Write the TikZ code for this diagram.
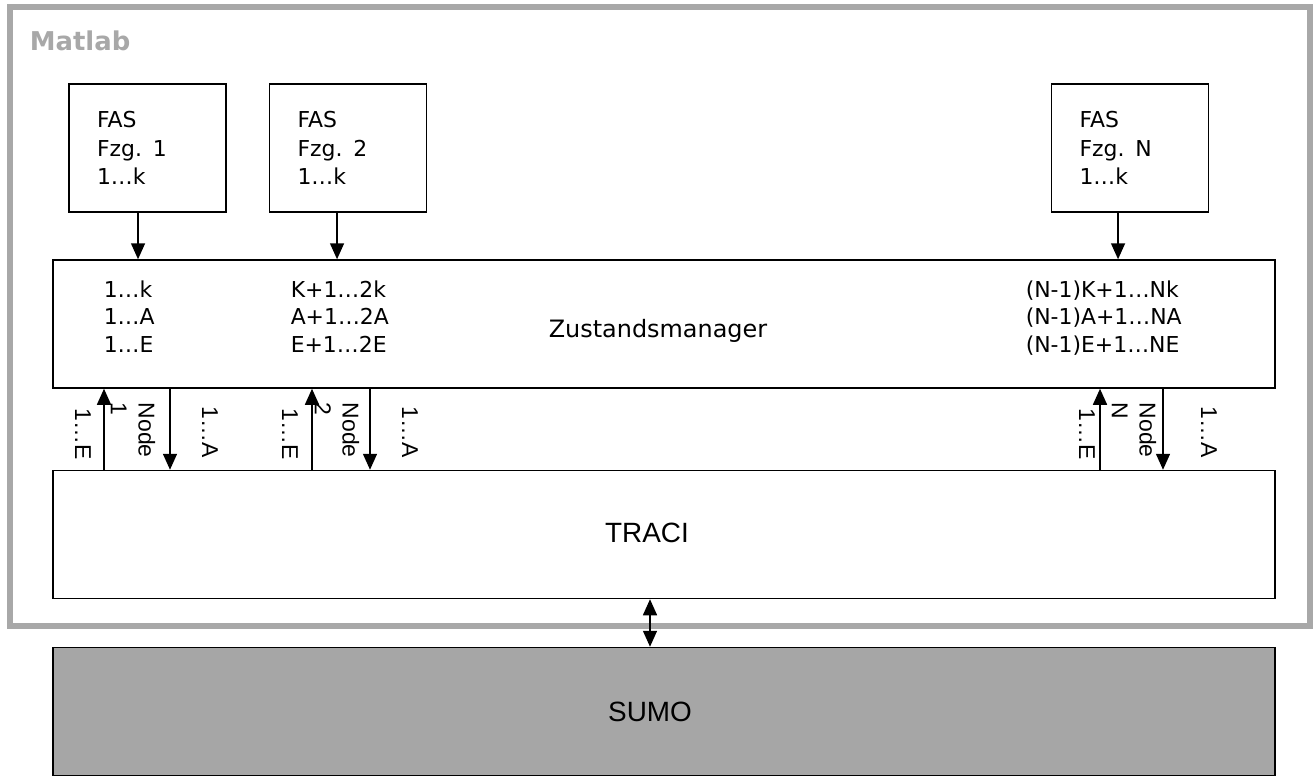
\documentclass[tikz,border=0pt]{standalone}
\usepackage{fontspec}
\setmainfont{DejaVu Sans}
\newfontfamily\arialfont{Liberation Sans}
\usetikzlibrary{arrows.meta, positioning, calc}
\definecolor{cframe}{HTML}{A8A8A8}
\definecolor{csumo}{HTML}{A6A6A6}
\definecolor{cline}{HTML}{000000}
\tikzset{
  every picture/.style={line width=1.5bp},
  box/.style={draw=cline, fill=#1, minimum width=1222bp, minimum height=128bp, inner sep=0pt},
  box/.default=white,
  fasbox/.style={draw=cline, minimum width=157bp, minimum height=128bp, text width=101bp,
    inner xsep=28bp, inner ysep=0pt, align=left, font=\fontsize{22}{28.5}\selectfont},
  tip/.style={Triangle[length=16bp, width=14bp]},
  arrow/.style={-{Triangle[length=16bp, width=14bp]}, draw=cline},
  lbl/.style={align=left, inner sep=0pt, font=\fontsize{22}{27.5}\selectfont},
  vlbl/.style={rotate=-90, align=left, inner sep=0pt, font=\arialfont\fontsize{23}{28}\selectfont},
}

\begin{document}
\begin{tikzpicture}[x=1bp, y=-1bp,
  big/.style={font=\arialfont\fontsize{28}{28}\selectfont, inner sep=0pt}]
  \useasboundingbox (0,0) rectangle (1313,776);
  % Matlab frame
  \draw[cframe, line width=6bp] (10,7) rectangle (1310,626);
  \node[anchor=base west, inner sep=0pt, text=cframe, font=\bfseries\fontsize{26}{26}\selectfont] (matlab) at (29,51) {Matlab};
  % driver assistance boxes
  \node[fasbox] (fas1) at (147.5,148) {FAS\\Fzg. 1\\1…k};
  \node[fasbox] (fas2) at (348,148) {FAS\\Fzg. 2\\1…k};
  \node[fasbox] (fas3) at (1130,148) {FAS\\Fzg. N\\1…k};
  % state manager and interface
  \node[box] (zm) at (664,324) {};
  \node[anchor=base, inner sep=0pt, font=\fontsize{24}{24}\selectfont] (zmtext) at (658,337) {Zustandsmanager};
  \node[lbl, anchor=north west] (zl1) at (103,280) {1…k\\1…A\\1…E};
  \node[lbl, anchor=north west] (zl2) at (290,280) {K+1…2k\\A+1…2A\\E+1…2E};
  \node[lbl, anchor=north west] (zl3) at (1025,280) {(N-1)K+1…Nk\\(N-1)A+1…NA\\(N-1)E+1…NE};
  \node[box] (traci) at (664,534.5) {};
  \node[big, anchor=base] (tracitext) at (647,542) {TRACI};
  \node[box=csumo] (sumo) at (664,711.5) {};
  \node[big, anchor=base] (sumotext) at (650,721) {SUMO};
  % vehicle arrows
  \foreach \n/\dx in {fas1/-9.5, fas2/-11, fas3/-12}
    \draw[arrow] ([xshift=\dx]\n.south) -- ([xshift=\dx]\n.south |- zm.north);
  % node channels between Zustandsmanager and TRACI
  \foreach \up/\dn/\e/\nd/\a/\k in {104/170/83/133/210/1, 312/370/290/337/410/2, 1100/1163/1087/1134/1209/N} {
    \draw[arrow] (traci.north -| \up,0) -- (zm.south -| \up,0);
    \draw[arrow] (zm.south -| \dn,0) -- (traci.north -| \dn,0);
    \node[vlbl, anchor=west] (e\k) at (\e,408) {1…E};
    \node[vlbl, anchor=west] (n\k) at (\nd,402) {Node\\\k};
    \node[vlbl, anchor=west] (a\k) at (\a,406) {1…A};
  }
  \draw[{Triangle[length=16bp, width=14bp]}-{Triangle[length=16bp, width=14bp]}] (traci.south -| 650,0) -- (sumo.north -| 650,0);
\end{tikzpicture}
\end{document}
